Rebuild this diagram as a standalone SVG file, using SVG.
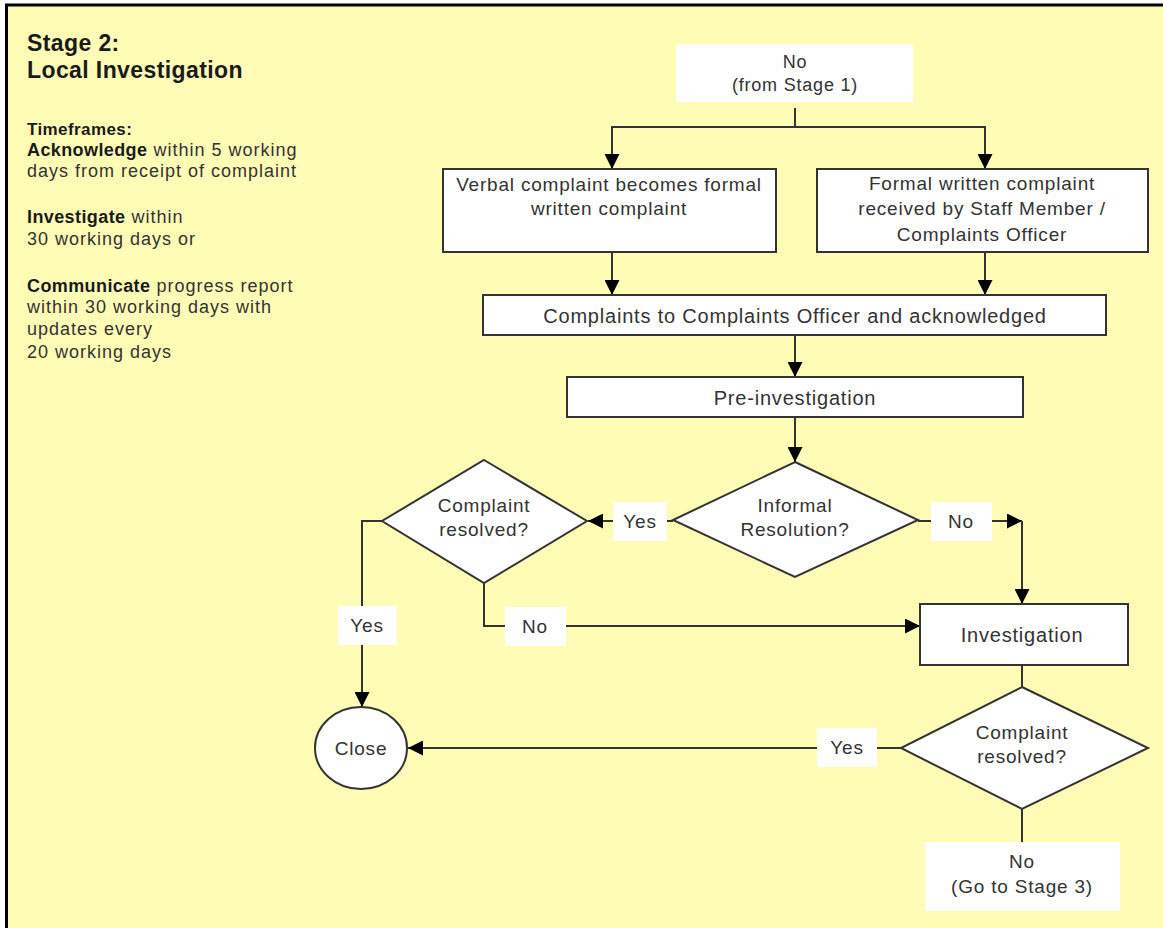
<svg xmlns="http://www.w3.org/2000/svg" width="1163" height="928" viewBox="0 0 1163 928">
<style>
.t{font-family:"Liberation Sans",Arial,sans-serif;fill:#333;letter-spacing:0.8px}
.p{letter-spacing:1px}
.b{font-weight:bold;fill:#1a1a1a;letter-spacing:0.4px}
.box{fill:#fff;stroke:#333;stroke-width:2}
.lab{fill:#fff;stroke:none}
.ln{fill:none;stroke:#333;stroke-width:2}
</style>
<defs>
<marker id="ah" viewBox="0 0 10 10" refX="10" refY="5" markerWidth="15" markerHeight="15" markerUnits="userSpaceOnUse" orient="auto">
<path d="M0,0 L10,5 L0,10 Z" fill="#000"/>
</marker>
</defs>
<rect x="0" y="0" width="1163" height="928" fill="#fff"/>
<rect x="7" y="5" width="1156" height="923" fill="#fffcb6"/>
<path d="M6.5,928 V5 H1163" fill="none" stroke="#000" stroke-width="3"/>

<g id="panel">
<text class="t b" x="27" y="51" font-size="23">Stage 2:</text>
<text class="t b" x="27" y="78" font-size="23">Local Investigation</text>
<text class="t b" x="27" y="135" font-size="17">Timeframes:</text>
<text class="t p" x="27" y="156" font-size="18"><tspan class="b">Acknowledge</tspan> within 5 working</text>
<text class="t p" x="27" y="177" font-size="18">days from receipt of complaint</text>
<text class="t p" x="27" y="223" font-size="18"><tspan class="b">Investigate</tspan> within</text>
<text class="t p" x="27" y="245" font-size="18">30 working days or</text>
<text class="t p" x="27" y="292" font-size="18"><tspan class="b">Communicate</tspan> progress report</text>
<text class="t p" x="27" y="313" font-size="18">within 30 working days with</text>
<text class="t p" x="27" y="335" font-size="18">updates every</text>
<text class="t p" x="27" y="358" font-size="18">20 working days</text>
</g>

<g id="connectors">
<path class="ln" d="M795,108 V127 H612 V169" marker-end="url(#ah)"/>
<path class="ln" d="M795,127 H985 V169" marker-end="url(#ah)"/>
<path class="ln" d="M612,252 V295" marker-end="url(#ah)"/>
<path class="ln" d="M985,252 V295" marker-end="url(#ah)"/>
<path class="ln" d="M795,335 V377" marker-end="url(#ah)"/>
<path class="ln" d="M795,417 V462" marker-end="url(#ah)"/>
<path class="ln" d="M673,521 H588" marker-end="url(#ah)"/>
<path class="ln" d="M918,521 H1022" marker-end="url(#ah)"/>
<path class="ln" d="M1022,521 V604" marker-end="url(#ah)"/>
<path class="ln" d="M484,583 V626 H920" marker-end="url(#ah)"/>
<path class="ln" d="M382,521 H362 V707" marker-end="url(#ah)"/>
<path class="ln" d="M1022,665 V687"/>
<path class="ln" d="M901,748 H408" marker-end="url(#ah)"/>
<path class="ln" d="M1022,809 V842"/>
<rect class="lab" x="613" y="502" width="54" height="39"/>
<text class="t" x="640" y="528" font-size="19" text-anchor="middle">Yes</text>
<rect class="lab" x="931" y="502" width="61" height="39"/>
<text class="t" x="961" y="528" font-size="19" text-anchor="middle">No</text>
<rect class="lab" x="505" y="607" width="61" height="39"/>
<text class="t" x="535" y="633" font-size="19" text-anchor="middle">No</text>
<rect class="lab" x="338" y="606" width="59" height="39"/>
<text class="t" x="367" y="632" font-size="19" text-anchor="middle">Yes</text>
<rect class="lab" x="817" y="728" width="60" height="39"/>
<text class="t" x="847" y="754" font-size="19" text-anchor="middle">Yes</text>
</g>

<g id="start">
<rect class="lab" x="676" y="44" width="237" height="58"/>
<text class="t" x="795" y="68" font-size="18" text-anchor="middle">No</text>
<text class="t" x="795" y="91" font-size="18" text-anchor="middle">(from Stage 1)</text>
</g>

<g id="verbal">
<rect class="box" x="443" y="169" width="333" height="83"/>
<text class="t" x="609" y="191" font-size="19" text-anchor="middle">Verbal complaint becomes formal</text>
<text class="t" x="609" y="215" font-size="19" text-anchor="middle">written complaint</text>
</g>

<g id="formal">
<rect class="box" x="817" y="169" width="331" height="83"/>
<text class="t" x="982" y="190" font-size="19" text-anchor="middle">Formal written complaint</text>
<text class="t" x="982" y="215" font-size="19" text-anchor="middle">received by Staff Member /</text>
<text class="t" x="982" y="241" font-size="19" text-anchor="middle">Complaints Officer</text>
</g>

<g id="acknowledged">
<rect class="box" x="483" y="295" width="623" height="40"/>
<text class="t" x="795" y="323" font-size="20" text-anchor="middle">Complaints to Complaints Officer and acknowledged</text>
</g>

<g id="preinv">
<rect class="box" x="567" y="377" width="456" height="40"/>
<text class="t" x="795" y="405" font-size="20" text-anchor="middle">Pre-investigation</text>
</g>

<g id="informal">
<polygon class="box" points="795,462 918,520 795,577 673,520"/>
<text class="t" x="795" y="512" font-size="19" text-anchor="middle">Informal</text>
<text class="t" x="795" y="536" font-size="19" text-anchor="middle">Resolution?</text>
</g>

<g id="resolved1">
<polygon class="box" points="484,460 587,521 484,583 382,521"/>
<text class="t" x="484" y="512" font-size="19" text-anchor="middle">Complaint</text>
<text class="t" x="484" y="536" font-size="19" text-anchor="middle">resolved?</text>
</g>

<g id="investigation">
<rect class="box" x="920" y="604" width="208" height="61"/>
<text class="t" x="1022" y="642" font-size="20" text-anchor="middle">Investigation</text>
</g>

<g id="close">
<ellipse class="box" cx="361" cy="748" rx="46" ry="41"/>
<text class="t" x="361" y="755" font-size="19" text-anchor="middle">Close</text>
</g>

<g id="resolved2">
<polygon class="box" points="1022,687 1148,748 1022,809 901,748"/>
<text class="t" x="1022" y="739" font-size="19" text-anchor="middle">Complaint</text>
<text class="t" x="1022" y="763" font-size="19" text-anchor="middle">resolved?</text>
</g>

<g id="stage3">
<rect class="lab" x="925" y="842" width="195" height="69"/>
<text class="t" x="1022" y="868" font-size="19" text-anchor="middle">No</text>
<text class="t" x="1022" y="893" font-size="19" text-anchor="middle">(Go to Stage 3)</text>
</g>
</svg>
